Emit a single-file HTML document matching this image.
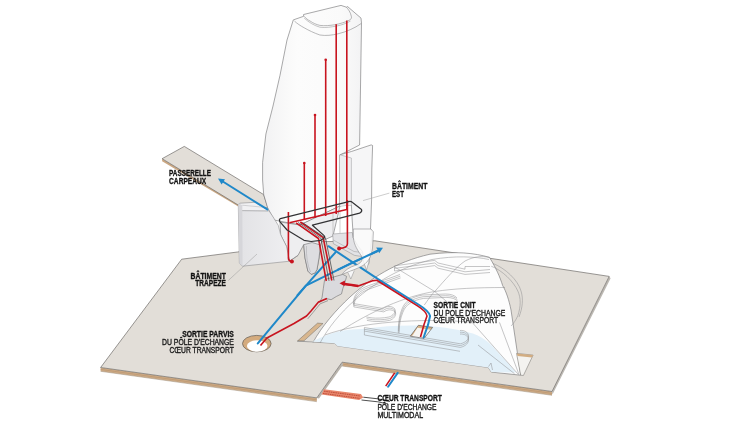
<!DOCTYPE html>
<html><head><meta charset="utf-8">
<style>
html,body{margin:0;padding:0;background:#fff;width:745px;height:424px;overflow:hidden}
svg{display:block}
text{font-family:"Liberation Sans",sans-serif;fill:#1c1c1c;stroke-linejoin:round}
.b{font-weight:bold;fill:#121212;stroke:#121212;stroke-width:0.32}
.r{fill:#1c1c1c;stroke:#1c1c1c;stroke-width:0.38}
</style></head><body>
<svg width="745" height="424" viewBox="0 0 745 424">
<defs>
<linearGradient id="tw" x1="0" y1="0" x2="1" y2="0">
<stop offset="0" stop-color="#f2f2f3"/><stop offset="0.35" stop-color="#fcfcfc"/><stop offset="0.8" stop-color="#fafafa"/><stop offset="1" stop-color="#f3f3f4"/>
</linearGradient>
<linearGradient id="bx" x1="0" y1="0" x2="1" y2="0">
<stop offset="0" stop-color="#e2e2e5"/><stop offset="1" stop-color="#efeff1"/>
</linearGradient>
</defs>

<!-- PLATFORM -->
<g id="platform">
 <polygon points="100.6,367.5 316.8,397.9 316.8,401.6 100.6,371.2" fill="#cdab86"/>
 <line x1="100.6" y1="369.4" x2="316.8" y2="399.8" stroke="#b8926c" stroke-width="0.6"/>
 <polygon points="342.1,362.2 552,391.5 552,395.2 342.1,365.9" fill="#cdab86"/>
 <line x1="342.1" y1="364.1" x2="552" y2="393.4" stroke="#b8926c" stroke-width="0.6"/>
 <polygon points="609.2,276.4 552,391.5 552.5,394.5 610.6,278.2" fill="#bcb8b2"/>
 <polygon points="342.1,362.2 316.8,397.9 319,398.4 343.3,364.5" fill="#b9b4ac"/>
 <polygon points="100.6,367.5 181.7,259.2 237.5,252 300,242 374.9,240.8 609.2,276.4 552,391.5 342.1,362.2 316.8,397.9" fill="#e2ded8" stroke="#6f6c68" stroke-width="0.7" stroke-linejoin="round"/>
 <line x1="100.6" y1="371.3" x2="316.8" y2="401.7" stroke="#9a8a76" stroke-width="0.5"/>
 <line x1="342.1" y1="366" x2="552" y2="395.3" stroke="#9a8a76" stroke-width="0.5"/>
</g>

<!-- PASSERELLE -->
<g id="passerelle">
 <polygon points="162.1,158.7 240,205 240,207.6 162.1,161.3" fill="#cba883"/>
 <polygon points="162.1,158.7 184.3,146.4 263.7,194.6 268,208 237.3,204.5" fill="#e2ded8" stroke="#6f6c68" stroke-width="0.7" stroke-linejoin="round"/>
</g>

<!-- TOWER -->
<g id="tower">
 <path d="M293.3,19.9 L303.6,16.3 L303.6,14.5 L341,5.4 L346.4,7.2 L347.6,6.6 L361,18.1 L361.5,23 L359.6,145 L340,155 L340,206 L300,225 L279,221 L274,220 L267.5,207.4 L263.7,194.6 L262.6,180 L262.6,162.4 L265.9,134 L273,106 L280,75.3 L287,40 Z" fill="url(#tw)" stroke="#6e6e71" stroke-width="0.6" stroke-linejoin="round"/>
 <path d="M304.2,16.3 C306,18.5 308,20 310.2,21.1 C313,23 316,24.5 319.9,25.4 C325,26 330,25.5 334.4,24.8 C340,23.8 346,22 350,19.9 C351.5,18.5 351.8,17.5 351.3,16.2 C350.5,12 348,9 346.4,7.2" fill="none" stroke="#8a8a8c" stroke-width="0.6"/>
 <path d="M304.2,18.1 C309,22.5 314,25.5 319.9,27.2 C326,28 331,27 336.8,26 C342,25 347,23 350.5,21.1" fill="none" stroke="#8a8a8c" stroke-width="0.5"/>
 <path d="M294.5,21.1 C297,23.5 300.5,25.8 304.2,27.8 C309,30.5 314,33 319.9,35 C326,36 332,35.2 338,33.8 C346,32 355,28 361,23.6" fill="none" stroke="#8a8a8c" stroke-width="0.6"/>
</g>

<!-- lower tower skirt -->
<g id="skirt" stroke="#6e6e71" stroke-width="0.6" stroke-linejoin="round">
 <path d="M280,222 L280.7,234.8 L286.6,246.6 L289.5,261.2 L298,255.4 L303.7,244.7 L305,258 L307.9,271.1 L311.2,274.4 L315,273 L317,269.5 L319,258 L320.5,245 L322,241 L333,236 L340,206 L300,225 Z" fill="#eeeef0"/>
 <path d="M303.7,244.7 L305,258 L307.9,271.1 L311.2,274.4 L315,273 L317,269.5 L319,258 L320.5,245 L312,242.5 Z" fill="#dddde0"/>
 <path d="M306.5,246 C306,256 307.5,265 310.5,272" fill="none" stroke="#a5a5a8" stroke-width="0.5"/>
</g>

<!-- TRAPEZE box -->
<g id="trapeze">
 <polygon points="238.3,203.5 255,202.3 268.4,210 272.5,216 278.3,225.4 280.7,234.8 286.6,246.6 289.5,261.2 242.6,266.2 239.4,263.2" fill="url(#bx)"/>
 <polygon points="238.3,203.5 255,202.3 268.4,210 240,210.6" fill="#f1f1f3"/>
 <path d="M268.4,210 L255,202.3 L240,203.2 Q238.3,203.5 238.3,205 L239.4,263.2 L242.6,266.2 L289.5,261.2 L298,255.4 M268.4,210 L272.5,216 L278.3,225.4 L280.7,234.8 L286.6,246.6 L289.5,261.2 M240,210.6 L268.4,211" fill="none" stroke="#8d8d8f" stroke-width="0.6" stroke-linejoin="round"/>
 <polygon points="238.3,203 242.3,205.2 242.6,266.2 239.4,263.2" fill="#d6d6da"/>
 <line x1="242.3" y1="205.2" x2="266" y2="207.5" stroke="#a0a0a2" stroke-width="0.4"/>
</g>

<!-- BATIMENT EST -->
<g id="est">
 <path d="M333,214 L333,234 M340,211 L340,233" fill="none" stroke="#a0a0a3" stroke-width="0.5"/>
 <polygon points="332.7,234 352.2,232.5 353.3,237.7 358,246 362.8,251.9 362.8,256.6 354.5,255.4 333.3,243.6" fill="#e3e3e6" stroke="#8a8a8c" stroke-width="0.5" stroke-linejoin="round"/>
 <path d="M333.3,240 L354,251.5 L362.8,252.5" fill="none" stroke="#9a9a9c" stroke-width="0.5"/>
 <path d="M339.8,154.8 L351.4,151.5 L371.2,144.9 L372.6,145.5 L371.8,170 L371.6,200 L370.5,229 L372.5,232 L371,243.6 L369.9,255.4 L368.7,263.7 L366,266.5 L363.5,262 L362.8,251.9 L358,246 L353.3,237.7 L352.2,220 L351.4,205 L340,206 Z" fill="#f6f6f7" stroke="#6e6e71" stroke-width="0.6" stroke-linejoin="round"/>
 <polygon points="339.8,154.8 351.4,158 351.4,205 340,206" fill="#eeeef0"/>
 <path d="M339.8,154.8 L351.4,158 L351.4,205" fill="none" stroke="#9a9a9c" stroke-width="0.5"/>
</g>

<!-- exit grey blob -->
<path d="M324.6,279.6 L333.7,277 L342.8,274.4 L346.6,276.4 L345.4,280.9 L342.8,288.7 L341.5,293.9 L336.3,296.5 L331.1,299.7 L325.9,298.5 L319.4,302.5 L322,297.8 L323.3,288.7 Z" fill="#dadadd" stroke="#6e6e71" stroke-width="0.6" stroke-linejoin="round"/>

<!-- DOME -->
<g id="dome">
 <polygon points="297.4,341.1 317.6,323.1 323,323.5 304,340.8" fill="#d8b68e" stroke="#6f6c68" stroke-width="0.5"/>
 <path d="M297.4,341.1 L334.6,343.3 L337.6,345.9 L488.3,367.5 L491.4,372.1 L520.7,375.2 L511,310 C509,300 506,291 502.7,285.7 C500,277 496,268 489.5,257.4 C475,253 455,251 430,254.2 C395,262 370,279 350,297 C336,310 322,326 313,342.4" fill="#fdfdfd" stroke="#6e6e71" stroke-width="0.6" stroke-linejoin="round"/>
 <path d="M312.3,341.6 C330,332 345,329 361.7,328.9 C385,326 405,325 423.5,325.8 C445,327 460,330 472.9,333.5 C485,338 492,345 497.6,352 C505,360 511,366 516,372.6 L491.4,372.1 L488.3,367.5 L337.6,345.9 L334.6,343.3 Z" fill="#e2f0f9"/>
 <g fill="none" stroke="#8c8c8f" stroke-width="0.5" stroke-linejoin="round">
  <path d="M320,343 C328,328 340,313 355,300 C375,283 398,268 432,259.5 C455,255.5 475,256.5 489,259.5"/>
  <path d="M491.2,266.2 C502,270 514,282 517.8,291 C521,298 521,306 517.8,315.8 C515,322 512,325 511,326"/>
  <path d="M493,263.5 C505,268 518,280 521,291 C523.5,299 522.5,308 519,317"/>
  <path d="M394.5,266.9 L434.7,291.5 L452,306"/>
  <path d="M424.3,305 C428,300 431,295 434.7,291.5 C445,280 455,268 465,261 C475,256 482,256 489.5,257.4"/>
  <path d="M340,331.4 C370,312 405,296 434.7,291.5 C455,288.5 475,287.6 505,287.5"/>
  <path d="M394.5,265.8 L434.7,260.4 L438,263 L465,269.2 L465,266.5 L490,266.5"/>
  <path d="M394.5,268.4 L434.7,263 L438,265.6 L465,271.8 L490,269.5"/>
  <path d="M394.5,271 L434.7,265.6 L438,268.2 L465,274.4 L490,272.5"/>
  <path d="M394.5,265.8 L394.5,271"/>
  <g id="pod1"><path d="M400,274.5 L368.2,285.8 C364,287.3 360,289.5 357,292.8 C355,295.3 353.5,298.5 353.2,303.5 L383.2,308.5 C387,306 391,305.5 394.5,308.5 C396.5,311.5 393,316 388.9,317 C383,318.3 376,318.3 372,317.9 L366.3,317"/></g>
  <use href="#pod1" transform="translate(0.3,1.7)"/>
  <use href="#pod1" transform="translate(0.6,3.4)"/>
  <g id="pod2"><path d="M398.3,329.5 C398.5,321 399.5,315 402,309 C404,304 406,302 409.5,299.7 C413,297.5 417,296 422.7,295 L445.3,294 C451,294 455,295.5 457,298"/></g>
  <use href="#pod2" transform="translate(0.4,1.7)"/>
  <use href="#pod2" transform="translate(0.8,3.4)"/>
  <g id="floor"><path d="M364.4,327.5 L460.3,343.8 C466,342.5 469,339 468.5,335.5 C468,332 464,330 460,330.5"/></g>
  <use href="#floor" transform="translate(0,1.8)"/>
  <use href="#floor" transform="translate(0,3.6)"/>
  <path d="M364.4,327.5 L364.4,335"/>
  <path d="M364.4,335 L460,351.3"/>
  <path d="M398.3,329.5 L398.3,333"/>
  <path d="M325,335 C360,322 420,318 470,322"/>
  <path d="M470,320 L518.5,374.6"/>
  <path d="M478,345 L514.5,373.7"/>
  <path d="M499.5,322.4 L519,374.6"/>
  <path d="M488.5,366.6 L491,363 L492.5,370"/>
 </g>
 <polygon points="418.4,325.3 432.6,327.4 424.1,338.4 410.3,336.2" fill="#f7f5f1"/>
 <polygon points="418.4,325.3 432.6,327.4 430.8,329.8 417.4,327.7" fill="#d8b386"/>
 <polygon points="418.4,325.3 417.4,327.7 412.6,335.6 410.3,336.2" fill="#d8b386"/>
 <polygon points="418.4,325.3 432.6,327.4 424.1,338.4 410.3,336.2" fill="none" stroke="#4a4744" stroke-width="0.6" stroke-linejoin="round"/>
 <polygon points="516.5,353.4 533.1,355.1 523.4,375.5 520.7,375.2" fill="#f4f3f0" stroke="#6f6c68" stroke-width="0.5" stroke-linejoin="round"/>
 <polygon points="516.8,353.4 533.1,355.1 532,357.6 517.5,356" fill="#d2ad82"/>
</g>

<!-- HOLE -->
<ellipse cx="256.8" cy="343.6" rx="14.3" ry="8.2" fill="#d4ab7e" stroke="#5f5a55" stroke-width="0.7"/>
<ellipse cx="257.2" cy="346" rx="10.3" ry="5.8" fill="#fff"/>

<!-- CŒUR TRANSPORT strip -->
<g>
 <polygon points="324,389.2 360.9,394 363.3,397.6 359.1,400 321.6,394.6" fill="#e8876c"/>
 <line x1="324" y1="391.2" x2="360" y2="396" stroke="#b63f2d" stroke-width="0.8" stroke-dasharray="1.6,0.7"/>
 <line x1="323" y1="393.4" x2="360" y2="398.4" stroke="#b63f2d" stroke-width="0.8" stroke-dasharray="1.6,0.7"/>
</g>
<!-- BLUE LINES -->
<g fill="none" stroke="#1f88c9" stroke-width="2" stroke-linecap="round" stroke-linejoin="round">
 <path d="M257.8,343.4 L305.9,285.6 L351.5,263.1 L377.5,251"/>
 <path d="M297.5,295.2 L335.5,252.3"/>
 <path d="M328.4,246.2 L361.8,268.3 L377.7,278.9 L418.4,304.5 Q429,311 430.1,316 L428,324.9 L423.6,337.5"/>
 <path d="M267.3,209.4 L222,181"/>
 <path d="M397.7,372.9 L388.1,386.7"/>
</g>
<polygon points="383,247.8 376.2,247.6 379.2,253.2" fill="#1f88c9"/>
<polygon points="218,178.4 225,179.3 221.6,184.6" fill="#1f88c9"/>

<!-- Est drape over lines -->
<path d="M353.3,237.7 C354,245 358,251 361.5,256 C363.5,260 361,263.5 355,265.5 C350,267 345,270 342,274.5 C350,271 357,269 363,265.5 C369,261 371.5,256 372.5,248 L373.4,231.8 L371,229 L353.3,229 Z" fill="#fafafa" fill-opacity="0.88" stroke="#8a8a8d" stroke-width="0.6" stroke-linejoin="round"/>
<path d="M347.8,272.2 L350.8,279 L354.3,270.6 M364.5,264.5 L366.5,270 L369,261.5" fill="#f7f7f8" stroke="#8a8a8d" stroke-width="0.5" stroke-linejoin="round"/>
<path d="M338,269.6 L351.5,263.1 L377.5,251" fill="none" stroke="#1f88c9" stroke-width="2" stroke-linecap="round"/>
<!-- RED LINES -->
<g fill="none" stroke="#c8141f" stroke-width="1.6" stroke-linejoin="round">
 <path d="M336.2,24.2 V214"/>
 <path d="M346.8,20.5 V210"/>
 <path d="M325.7,59.7 V216"/>
 <path d="M315,115 V218"/>
 <path d="M304.3,163 V220"/>
 <path d="M288.4,212 V258 Q288.4,261 291.9,261.4"/>
 <path d="M347.4,200 V244 Q347.4,248 339.1,248.4"/>
 <path d="M289.5,222.8 L346.8,209.5"/>
 <path d="M296.1,222.8 L318.5,238.5 L326.3,281"/>
 <path d="M300.3,222 L323.2,237.6 L331.8,280.5"/>
 <path d="M260.5,345.5 L266.9,338 L294,323.5 L306.5,316 L311,311 L318.5,302 L327,298.5"/>
 <path d="M345,284.5 L358.3,286 L373.3,280.6 L376.8,280.3 L417.5,305.9 Q426.3,311.5 427,316 L424.1,324.2 L420.5,337"/>
 <path d="M394.7,372.9 L385.7,386.1"/>
</g>
<polygon points="339.5,283.2 345,280.6 344.6,286.2" fill="#c8141f"/>
<path d="M343,283.6 L358.3,286" stroke="#c8141f" stroke-width="2.4" fill="none"/>
<g fill="#c8141f">
 <circle cx="325.7" cy="59.7" r="1.3"/><circle cx="315" cy="115" r="1.3"/><circle cx="304.3" cy="163" r="1.3"/>
 <circle cx="291.9" cy="261.4" r="2"/><circle cx="339.1" cy="248.4" r="2"/>
</g>
<path d="M298.2,222.4 L320.8,238 L329,280.8 M302.5,222.5 L325.5,238 L334,280.5" fill="none" stroke="#3a3a3c" stroke-width="0.7"/>

<path d="M307.8,318.8 L313,312.5 L320.2,303.8 L328,300.6" fill="none" stroke="#6e6e71" stroke-width="0.6"/>
<!-- GREY L OUTLINE -->
<path d="M280.4,218.6 L348.7,201.6 Q351,201 352.5,202.5 L361.5,209.5 Q362.5,211.8 359.6,213.1 L312.4,225.2 L323.3,234.9 Q325.5,237 324.5,237.8 L320.9,240.3 L311.2,241.5 L304,240.3 L287.1,230 L279.8,221.6 Q278.8,219.5 280.4,218.6 Z" fill="none" stroke="#333335" stroke-width="1.2" stroke-linejoin="round"/>

<!-- LEADERS -->
<g stroke="#9a9a9a" stroke-width="0.5">
 <line x1="228.3" y1="280.5" x2="257" y2="254"/>
 <line x1="363" y1="200.6" x2="389.4" y2="193.1"/>
</g>
<g stroke="#222" stroke-width="0.8" fill="none">
 <path d="M363.3,397.2 L377.8,398.8 L390,401.5"/>
 <path d="M361.5,400 L377.8,401.8 L388,404"/>
</g>

<!-- LABELS -->
<g font-size="8.6" style="filter:grayscale(1)">
 <text class="b" x="169.1" y="175.7" textLength="41.9" lengthAdjust="spacingAndGlyphs">PASSERELLE</text>
 <text class="b" x="169.1" y="183.8" textLength="37.1" lengthAdjust="spacingAndGlyphs">CARPEAUX</text>
 <text class="b" x="392" y="188.5" textLength="35.5" lengthAdjust="spacingAndGlyphs">BÂTIMENT</text>
 <text class="b" x="392" y="196.6" textLength="11.9" lengthAdjust="spacingAndGlyphs">EST</text>
 <text class="b" x="190.5" y="278.5" textLength="35.4" lengthAdjust="spacingAndGlyphs">BÂTIMENT</text>
 <text class="b" x="195.3" y="286.2" textLength="30.6" lengthAdjust="spacingAndGlyphs">TRAPEZE</text>
 <text class="b" x="182.2" y="336.8" textLength="51.7" lengthAdjust="spacingAndGlyphs">SORTIE PARVIS</text>
 <text class="r" x="162.1" y="345.4" textLength="71.8" lengthAdjust="spacingAndGlyphs">DU PÔLE D'ECHANGE</text>
 <text class="r" x="169.5" y="353" textLength="64.4" lengthAdjust="spacingAndGlyphs">CŒUR TRANSPORT</text>
 <text class="b" x="433.5" y="307.7" textLength="42.2" lengthAdjust="spacingAndGlyphs">SORTIE CNIT</text>
 <text class="r" x="433.5" y="315.5" textLength="71.8" lengthAdjust="spacingAndGlyphs">DU POLE D'ECHANGE</text>
 <text class="r" x="433.5" y="323.4" textLength="64.6" lengthAdjust="spacingAndGlyphs">CŒUR TRANSPORT</text>
 <text class="b" x="377.4" y="401.1" textLength="64.5" lengthAdjust="spacingAndGlyphs">CŒUR TRANSPORT</text>
 <text class="r" x="377.4" y="409.8" textLength="59.1" lengthAdjust="spacingAndGlyphs">PÔLE D'ECHANGE</text>
 <text class="r" x="377.4" y="417.9" textLength="45.7" lengthAdjust="spacingAndGlyphs">MULTIMODAL</text>
</g>
</svg>
</body></html>
